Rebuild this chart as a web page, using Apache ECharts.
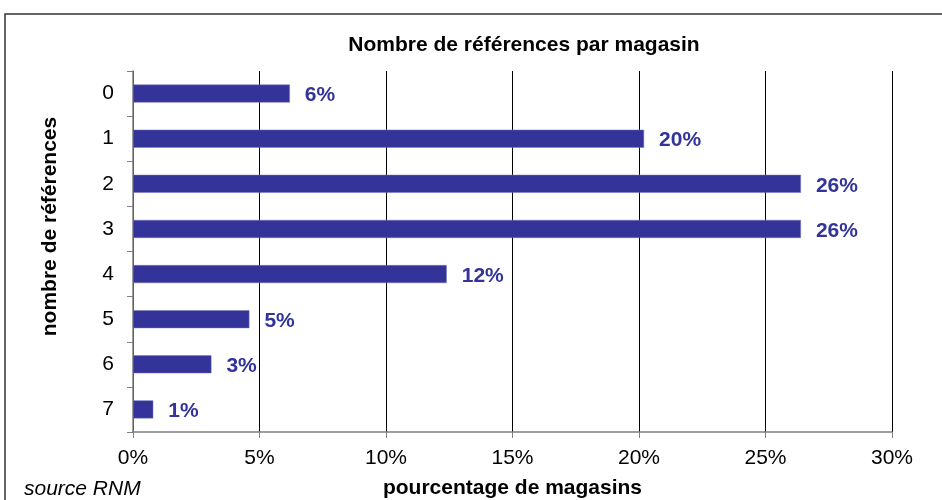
<!DOCTYPE html>
<html>
<head>
<meta charset="utf-8">
<title>Nombre de références par magasin</title>
<script src="https://cdn.jsdelivr.net/npm/echarts@6/dist/echarts.min.js"></script>
<style>
  html, body { margin: 0; padding: 0; background: #fff; }
  #chart { width: 942px; height: 500px; }
</style>
</head>
<body>
<div id="chart"></div>
<script>
var categories = ['0', '1', '2', '3', '4', '5', '6', '7'];
var values = [6.2, 20.2, 26.4, 26.4, 12.4, 4.6, 3.1, 0.8];
var xTicks = [0, 5, 10, 15, 20, 25, 30];

var font = '"Liberation Sans", Arial, sans-serif';
var fs = 21;
var chart = echarts.init(document.getElementById('chart'));

chart.setOption({
  animation: false,
  title: {
    text: 'Nombre de références par magasin',
    left: 519, top: 30, textAlign: 'center',
    textStyle: { fontFamily: font, fontSize: fs, fontWeight: 'bold', color: '#000' }
  },
  grid: { left: 133, right: 50, top: 71, bottom: 68, containLabel: false, outerBoundsMode: 'none' },
  xAxis: {
    type: 'value',
    min: xTicks[0], max: xTicks[xTicks.length - 1], interval: 5,
    name: 'pourcentage de magasins',
    nameLocation: 'middle', nameGap: 46,
    nameTextStyle: { fontFamily: font, fontSize: fs, fontWeight: 'bold', color: '#000' },
    axisLine: { show: true, lineStyle: { color: '#808080', width: 1.5 } },
    axisTick: { show: true, length: 6, lineStyle: { color: '#808080' } },
    axisLabel: { margin: 16, fontFamily: font, fontSize: fs, color: '#000', formatter: '{value}%' },
    splitLine: { show: true, lineStyle: { color: '#000', width: 1 } }
  },
  yAxis: {
    type: 'category', data: categories, inverse: true,
    name: 'nombre de références',
    nameLocation: 'middle', nameGap: 72, nameRotate: 90,
    nameTextStyle: { fontFamily: font, fontSize: fs, fontWeight: 'bold', color: '#000', padding: [0, 0, 0, 50] },
    axisLine: { show: true, lineStyle: { color: '#808080', width: 1.5 } },
    axisTick: { show: true, length: 6, alignWithLabel: false, lineStyle: { color: '#808080' } },
    axisLabel: { margin: 19, fontFamily: font, fontSize: fs, color: '#000' }
  },
  series: [{
    type: 'bar', data: values, barWidth: 18,
    itemStyle: { color: '#333399', borderColor: '#7777bb', borderWidth: 0.5 },
    label: {
      show: true, position: 'right', distance: 15, offset: [0, 2],
      fontFamily: font, fontSize: fs, fontWeight: 'bold', color: '#333399',
      formatter: function (p) { return Math.round(p.value) + '%'; }
    }
  }],
  graphic: [
    { type: 'rect', shape: { x: 5, y: 14, width: 960, height: 500 },
      style: { fill: 'none', stroke: '#333', lineWidth: 1.5 }, silent: true },
    { type: 'text', left: 24, top: 479,
      style: { text: 'source RNM', font: 'italic ' + fs + 'px ' + font, fill: '#000' } }
  ]
});
</script>
</body>
</html>
